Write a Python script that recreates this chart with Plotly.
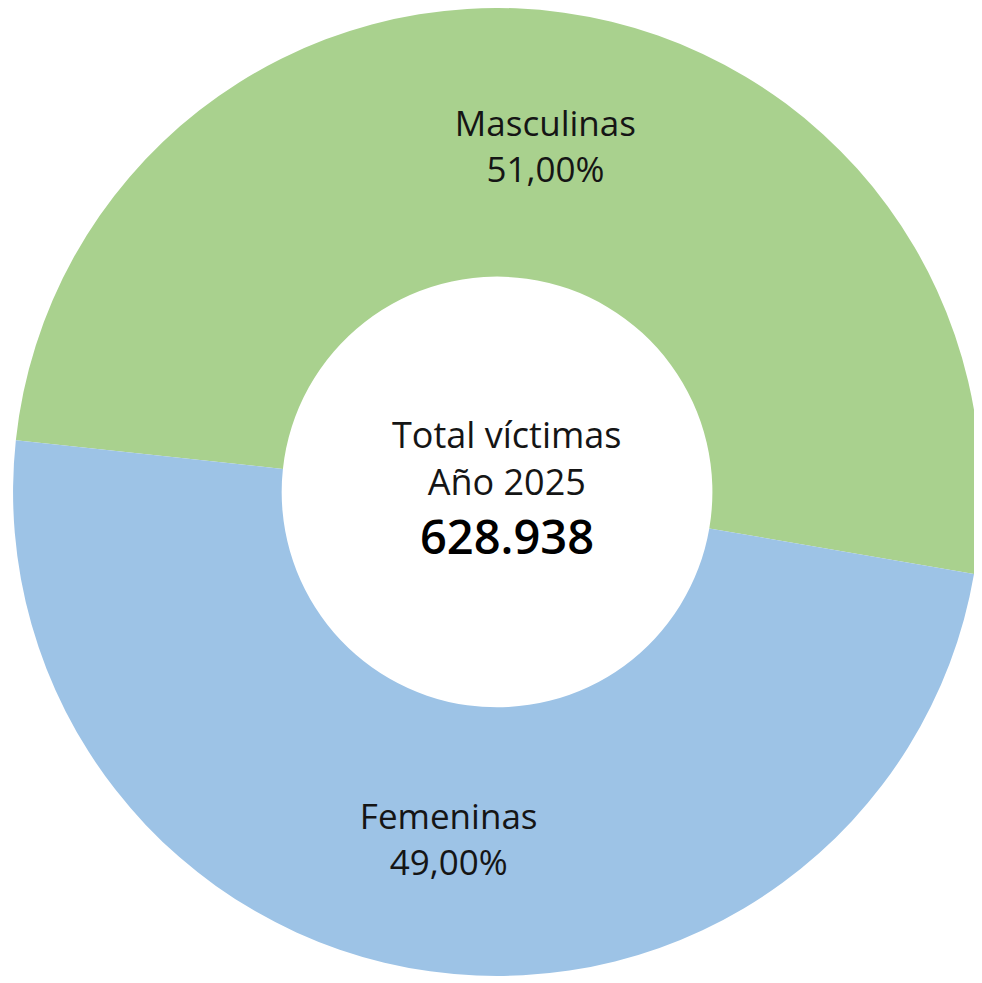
import plotly.graph_objects as go

categories = ["Masculinas", "Femeninas"]
percentages = [51.00, 49.00]
colors = ["#A9D18E", "#9DC3E6"]
center_title = "Total víctimas"
center_year = "Año 2025"
center_total = "628.938"

text_labels = [f"{c}<br>{p:.2f}%".replace(".", ",") for c, p in zip(categories, percentages)]
FONT = "Open Sans, Noto Sans, sans-serif"

fig = go.Figure(
    go.Pie(
        labels=categories,
        values=percentages,
        text=text_labels,
        textinfo="text",
        textposition="inside",
        insidetextorientation="horizontal",
        hole=0.445,
        sort=False,
        direction="clockwise",
        rotation=276.15,
        marker=dict(colors=colors, line=dict(width=0)),
        textfont=dict(family=FONT, size=35, color="#151515"),
        domain=dict(x=[0.0051, 0.9909], y=[0.0153, 1.0]),
        showlegend=False,
        hoverinfo="label+percent",
    )
)

fig.add_annotation(
    x=0.508, y=0.5422, xref="paper", yref="paper",
    text=f"{center_title}<br>{center_year}",
    showarrow=False,
    font=dict(family=FONT, size=36, color="#151515"),
    align="center", yanchor="middle",
)
fig.add_annotation(
    x=0.508, y=0.4629, xref="paper", yref="paper",
    text=center_total,
    showarrow=False,
    font=dict(family=FONT, size=47, color="#000000", weight=600),
    align="center", yanchor="middle",
)

fig.update_layout(
    width=982, height=983,
    margin=dict(l=0, r=0, t=0, b=0),
    paper_bgcolor="white",
    plot_bgcolor="white",
)

fig.write_html("out.html")
